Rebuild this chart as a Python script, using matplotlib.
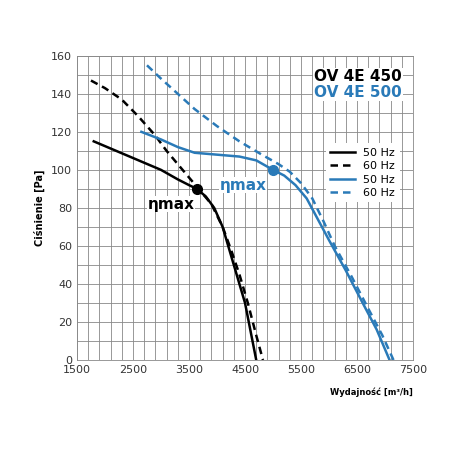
import numpy as np
import matplotlib.pyplot as plt

blue = "#2a7ab8"

x450_50 = [1800, 2200, 2600, 3000, 3300, 3500, 3640, 3800, 3950, 4100, 4250, 4400, 4500, 4600, 4700]
y450_50 = [115, 110, 105, 100, 95, 92, 90, 86, 80, 70, 55, 40, 30, 15, 0]
x450_60 = [1750, 2000, 2300, 2600, 2900, 3100, 3300, 3500, 3700, 3900, 4100, 4250, 4400, 4550, 4700, 4820]
y450_60 = [147, 143, 137, 128, 118, 110, 103, 96, 89, 82, 70, 58, 45, 30, 13, 0]
x500_50 = [2650, 3000, 3300, 3600, 4000, 4400, 4700, 5000, 5200, 5400, 5600, 5800, 6000, 6300, 6600, 6850, 7080]
y500_50 = [120, 116, 112, 109, 108, 107, 105, 100, 97, 92, 85, 74, 63, 47, 30, 16, 0]
x500_60 = [2750, 3000, 3300, 3600, 4000, 4400, 4800, 5100, 5300, 5500, 5700, 5900, 6100, 6400, 6700, 6950, 7150]
y500_60 = [155, 148, 140, 132, 123, 115, 108, 103, 99, 93, 85, 73, 60, 44, 27, 13, 0]
eta450 = (3640, 90)
eta500 = (5000, 100)

fig = plt.figure(figsize=(4.5, 4.5), dpi=100)
ax = fig.add_axes([0.171, 0.2, 0.747, 0.676])

ax.plot(x450_50, y450_50, color="black", lw=1.8, label="50 Hz")
ax.plot(x450_60, y450_60, color="black", lw=1.8, ls=(0, (3, 2)), label="60 Hz")
ax.plot(x500_50, y500_50, color=blue, lw=1.8, label="50 Hz")
ax.plot(x500_60, y500_60, color=blue, lw=1.8, ls=(0, (3, 2)), label="60 Hz")
ax.plot(*eta450, "o", color="black", ms=7)
ax.plot(*eta500, "o", color=blue, ms=7)

ax.text(3600, 82, "ηmax", fontsize=11, fontweight="bold", ha="right", va="center",
        bbox=dict(fc="white", ec="none", pad=0.5))
ax.text(4880, 92, "ηmax", fontsize=11, fontweight="bold", color=blue, ha="right", va="center",
        bbox=dict(fc="white", ec="none", pad=0.5))
ax.text(7300, 149, "OV 4E 450", fontsize=11, fontweight="bold", ha="right", va="center",
        bbox=dict(fc="white", ec="none", pad=0.5))
ax.text(7300, 140.5, "OV 4E 500", fontsize=11, fontweight="bold", color=blue, ha="right", va="center",
        bbox=dict(fc="white", ec="none", pad=0.5))

leg = ax.legend(loc="center right", bbox_to_anchor=(0.97, 0.615), frameon=True, fontsize=8,
                handlelength=2.2, borderaxespad=0.3, labelspacing=0.3)
leg.get_frame().set_edgecolor("none")
leg.get_frame().set_alpha(1)

ax.set_xlim(1500, 7500)
ax.set_ylim(0, 160)
ax.set_xticks(np.arange(1500, 7501, 1000))
ax.set_xticks(np.arange(1500, 7501, 200), minor=True)
ax.set_yticks(np.arange(0, 161, 20))
ax.set_yticks(np.arange(0, 161, 10), minor=True)
ax.grid(which="both", color="#888888", lw=0.6)
ax.set_axisbelow(True)
ax.tick_params(which="both", length=0, labelsize=8, colors="#333333")
for s in ax.spines.values():
    s.set_color("#888888")
    s.set_linewidth(0.6)

ax.set_ylabel("Ciśnienie [Pa]", fontsize=7, fontweight="bold")
ax.text(1.0, -0.09, "Wydajność [m³/h]", transform=ax.transAxes, ha="right", va="top",
        fontsize=6, fontweight="bold")

fig.savefig("out.png", dpi=100, facecolor="white")
